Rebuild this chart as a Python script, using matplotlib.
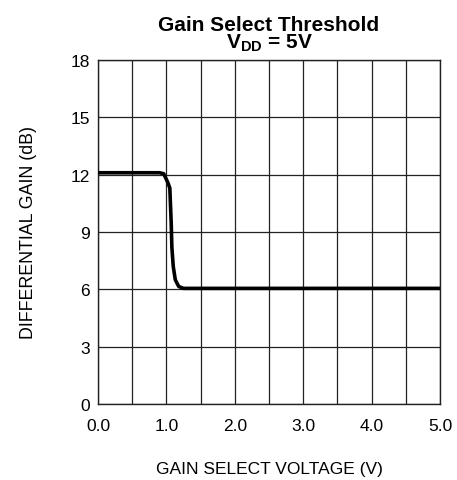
import matplotlib
matplotlib.use('Agg')
import matplotlib.pyplot as plt
import numpy as np

plt.rcParams.update({
    'font.family': ['Liberation Sans', 'DejaVu Sans'],
    'mathtext.fontset': 'custom',
    'mathtext.rm': 'Liberation Sans',
    'mathtext.bf': 'Liberation Sans:bold',
    'mathtext.it': 'Liberation Sans:italic',
})

# Curve
voltage = [0.0, 0.5, 0.9, 0.96, 1.02, 1.05, 1.07, 1.08, 1.10, 1.13, 1.18, 1.25, 2.0, 3.0, 4.0, 5.0]
gain_db = [12.1, 12.1, 12.1, 12.05, 11.6, 11.3, 9.5, 8.2, 7.2, 6.5, 6.15, 6.05, 6.05, 6.05, 6.05, 6.05]

xticks = [0, 1, 2, 3, 4, 5]
xtick_labels = ['0.0', '1.0', '2.0', '3.0', '4.0', '5.0']
yticks = [0, 3, 6, 9, 12, 15, 18]

fig = plt.figure(figsize=(4.57, 4.81), dpi=100)
ax = fig.add_axes([98 / 457, 76 / 481, 342 / 457, 344 / 481])

ax.plot(voltage, gain_db, color='black', lw=2.6, solid_capstyle='butt', zorder=3)

ax.set_xlim(0, 5)
ax.set_ylim(0, 18)
ax.set_xticks(xticks)
ax.set_xticklabels(xtick_labels)
ax.set_xticks(np.arange(0, 5.01, 0.5), minor=True)
ax.set_yticks(yticks)
ax.grid(True, which='both', axis='x', color='#222222', lw=0.9)
ax.grid(True, which='major', axis='y', color='#222222', lw=0.9)
ax.tick_params(which='both', length=0, labelsize=12.5)
ax.tick_params(axis='x', pad=10)
ax.tick_params(axis='y', pad=6)
for s in ax.spines.values():
    s.set_linewidth(1.0)
    s.set_color('#222222')

ax.set_xlabel('GAIN SELECT VOLTAGE (V)', fontsize=12.5, labelpad=20)
ax.set_ylabel('DIFFERENTIAL GAIN (dB)', fontsize=12.8, labelpad=24)
ax.set_title('Gain Select Threshold\n$\\mathbf{V_{DD}}$ = 5V', fontsize=15, fontweight='bold', pad=9,
             linespacing=0.85)

fig.savefig('out.png', dpi=100)
